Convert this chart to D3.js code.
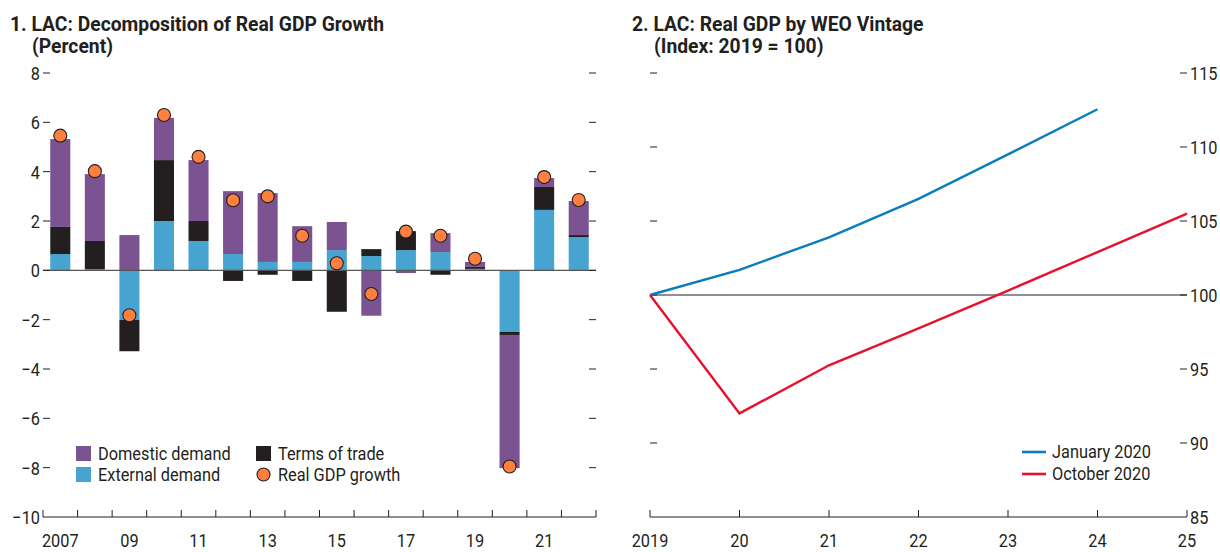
<!DOCTYPE html>
<html>
<head>
<meta charset="utf-8">
<script src="https://cdn.jsdelivr.net/npm/d3@7"></script>
<style>
  body { margin: 0; background: #fff; }
  svg { display: block; font-family: "Liberation Sans Narrow", "Arial Narrow", "Roboto", sans-serif; }
  .title { font-weight: bold; font-size: 20px; fill: #231f20; }
  .lbl { font-size: 19px; fill: #231f20; }
</style>
</head>
<body>
<svg width="1220" height="552"></svg>
<script>
// ---- panel 1 data ----
const years = d3.range(2007, 2023);
const domestic = [3.56, 2.71, 1.43, 1.71, 2.47, 2.55, 2.79, 1.45, 1.14, -1.84, -0.11, 0.77, 0.20, -5.40, 0.36, 1.38];
const external = [0.66, 0.05, -2.01, 2.00, 1.19, 0.66, 0.34, 0.34, 0.82, 0.58, 0.82, 0.74, 0.06, -2.50, 2.45, 1.35];
const terms = [1.10, 1.14, -1.27, 2.47, 0.81, -0.43, -0.18, -0.43, -1.68, 0.28, 0.77, -0.18, 0.08, -0.12, 0.93, 0.08];
const gdpGrowth = [5.46, 4.02, -1.82, 6.30, 4.60, 2.84, 3.00, 1.40, 0.29, -0.96, 1.57, 1.40, 0.47, -7.95, 3.78, 2.85];
const leftTicks = [8, 6, 4, 2, 0, -2, -4, -6, -8, -10];
const leftYearLabels = ["2007", "09", "11", "13", "15", "17", "19", "21"];

// ---- panel 2 data ----
const vintageYears = [2019, 2020, 2021, 2022, 2023, 2024, 2025];
const jan2020 = [100, 101.7, 103.9, 106.5, 109.5, 112.55, null];
const oct2020 = [100, 92.0, 95.25, 97.75, 100.3, 102.9, 105.5];
const rightTicks = [85, 90, 95, 100, 105, 110, 115];
const rightYearLabels = ["2019", "20", "21", "22", "23", "24", "25"];

const colors = { domestic: "#7b5391", external: "#47a3d0", terms: "#231f20", dot: "#ff7f3f" };
const ink = "#231f20";

const svg = d3.select("svg");

// ================= panel 1 =================
const p1 = svg.append("g");

p1.append("text").attr("class", "title").attr("x", 10).attr("y", 31)
    .text("1. LAC: Decomposition of Real GDP Growth");
p1.append("text").attr("class", "title").attr("x", 32).attr("y", 53)
    .text("(Percent)");

const x1 = d3.scaleBand().domain(years).range([43, 596]).paddingInner(0.42).paddingOuter(0.21);
const y1 = d3.scaleLinear().domain([-10, 8]).range([517, 73]);

const rows = years.map((yr, i) => ({ year: yr, external: external[i], terms: terms[i], domestic: domestic[i] }));
const keys = ["external", "terms", "domestic"];
const stacked = d3.stack().keys(keys).offset(d3.stackOffsetDiverging)(rows);

p1.append("g").selectAll("g")
    .data(stacked)
    .join("g")
    .attr("fill", d => colors[d.key])
    .selectAll("rect")
    .data(d => d)
    .join("rect")
    .attr("x", d => x1(d.data.year))
    .attr("width", x1.bandwidth())
    .attr("y", d => y1(Math.max(d[0], d[1])))
    .attr("height", d => Math.abs(y1(d[0]) - y1(d[1])));

// zero line
p1.append("line")
    .attr("x1", 43).attr("x2", 596)
    .attr("y1", y1(0)).attr("y2", y1(0))
    .attr("stroke", "#555").attr("stroke-width", 1.3);

// growth dots
p1.append("g").selectAll("circle")
    .data(years)
    .join("circle")
    .attr("cx", d => x1(d) + x1.bandwidth() / 2)
    .attr("cy", (d, i) => y1(gdpGrowth[i]))
    .attr("r", 6.5)
    .attr("fill", colors.dot)
    .attr("stroke", ink)
    .attr("stroke-width", 1.1);

// y ticks (both sides, inward)
const yt1 = p1.append("g");
yt1.selectAll("line.l")
    .data(leftTicks.filter(t => t !== -10))
    .join("line")
    .attr("class", "l")
    .attr("x1", 43).attr("x2", 50)
    .attr("y1", d => y1(d)).attr("y2", d => y1(d))
    .attr("stroke", ink).attr("stroke-width", 1);
yt1.selectAll("line.r")
    .data(leftTicks.filter(t => t !== -10))
    .join("line")
    .attr("class", "r")
    .attr("x1", 589).attr("x2", 596)
    .attr("y1", d => y1(d)).attr("y2", d => y1(d))
    .attr("stroke", ink).attr("stroke-width", 1);
yt1.selectAll("text")
    .data(leftTicks)
    .join("text")
    .attr("class", "lbl")
    .attr("x", 40)
    .attr("y", d => y1(d) + 7)
    .attr("text-anchor", "end")
    .text(d => d < 0 ? "\u2212" + Math.abs(d) : d);

// x axis
const xa1 = p1.append("g");
xa1.append("line")
    .attr("x1", 43).attr("x2", 596).attr("y1", 517).attr("y2", 517)
    .attr("stroke", ink).attr("stroke-width", 1.2);
const bounds = years.map(yr => x1(yr) - x1.step() * x1.paddingInner() / 2).concat([596]);
bounds[0] = 43;
xa1.selectAll("line.tk")
    .data(bounds)
    .join("line")
    .attr("class", "tk")
    .attr("x1", d => d).attr("x2", d => d)
    .attr("y1", 510).attr("y2", 517)
    .attr("stroke", ink).attr("stroke-width", 1);
xa1.selectAll("text")
    .data(leftYearLabels)
    .join("text")
    .attr("class", "lbl")
    .attr("x", (d, i) => x1(years[i * 2]) + x1.bandwidth() / 2)
    .attr("y", 547)
    .attr("text-anchor", "middle")
    .text(d => d);

// legend 1
const leg1 = p1.append("g");
const legItems = [
  { label: "Domestic demand", color: colors.domestic, x: 76, y: 446, type: "rect" },
  { label: "External demand", color: colors.external, x: 76, y: 467, type: "rect" },
  { label: "Terms of trade", color: colors.terms, x: 256, y: 446, type: "rect" },
  { label: "Real GDP growth", color: colors.dot, x: 256, y: 467, type: "circle" }
];
legItems.forEach(it => {
  if (it.type === "rect") {
    leg1.append("rect").attr("x", it.x).attr("y", it.y).attr("width", 15).attr("height", 15).attr("fill", it.color);
  } else {
    leg1.append("circle").attr("cx", it.x + 7.5).attr("cy", it.y + 7.5).attr("r", 6.5)
        .attr("fill", it.color).attr("stroke", ink).attr("stroke-width", 1.1);
  }
  leg1.append("text").attr("class", "lbl").attr("x", it.x + 22).attr("y", it.y + 14).text(it.label);
});

// ================= panel 2 =================
const p2 = svg.append("g");

p2.append("text").attr("class", "title").attr("x", 632).attr("y", 31)
    .text("2. LAC: Real GDP by WEO Vintage");
p2.append("text").attr("class", "title").attr("x", 654).attr("y", 53)
    .text("(Index: 2019 = 100)");

const x2 = d3.scaleLinear().domain([2019, 2025]).range([650, 1187]);
const y2 = d3.scaleLinear().domain([85, 115]).range([517, 73]);

// ticks
const yt2 = p2.append("g");
yt2.selectAll("line.l")
    .data(rightTicks.filter(t => t !== 85))
    .join("line")
    .attr("class", "l")
    .attr("x1", 650).attr("x2", 657)
    .attr("y1", d => y2(d)).attr("y2", d => y2(d))
    .attr("stroke", ink).attr("stroke-width", 1);
yt2.selectAll("line.r")
    .data(rightTicks.filter(t => t !== 85))
    .join("line")
    .attr("class", "r")
    .attr("x1", 1180).attr("x2", 1187)
    .attr("y1", d => y2(d)).attr("y2", d => y2(d))
    .attr("stroke", ink).attr("stroke-width", 1);
yt2.selectAll("text")
    .data(rightTicks)
    .join("text")
    .attr("class", "lbl")
    .attr("x", 1190)
    .attr("y", d => y2(d) + 7)
    .text(d => d);

// 100 baseline
p2.append("line")
    .attr("x1", 650).attr("x2", 1187)
    .attr("y1", y2(100)).attr("y2", y2(100))
    .attr("stroke", ink).attr("stroke-width", 1);

// x axis
const xa2 = p2.append("g");
xa2.append("line")
    .attr("x1", 650).attr("x2", 1187).attr("y1", 517).attr("y2", 517)
    .attr("stroke", ink).attr("stroke-width", 1.2);
xa2.selectAll("line.tk")
    .data(vintageYears)
    .join("line")
    .attr("class", "tk")
    .attr("x1", d => x2(d)).attr("x2", d => x2(d))
    .attr("y1", 510).attr("y2", 517)
    .attr("stroke", ink).attr("stroke-width", 1);
xa2.selectAll("text")
    .data(rightYearLabels)
    .join("text")
    .attr("class", "lbl")
    .attr("x", (d, i) => x2(vintageYears[i]))
    .attr("y", 547)
    .attr("text-anchor", "middle")
    .text(d => d);

// lines
const line2 = d3.line()
    .defined(d => d[1] != null)
    .x(d => x2(d[0]))
    .y(d => y2(d[1]));

const series = [
  { name: "January 2020", values: jan2020, color: "#0a7dc2" },
  { name: "October 2020", values: oct2020, color: "#e8112d" }
];

p2.append("g").selectAll("path")
    .data(series)
    .join("path")
    .attr("fill", "none")
    .attr("stroke", d => d.color)
    .attr("stroke-width", 2.4)
    .attr("d", d => line2(vintageYears.map((yr, i) => [yr, d.values[i]])));

// legend 2
const leg2 = p2.append("g");
series.forEach((s, i) => {
  const yy = 452 + i * 22;
  leg2.append("line").attr("x1", 1022).attr("x2", 1046).attr("y1", yy).attr("y2", yy)
      .attr("stroke", s.color).attr("stroke-width", 2.6);
  leg2.append("text").attr("class", "lbl").attr("x", 1052).attr("y", yy + 6).text(s.name);
});

// no condensed font installed: squeeze text horizontally to mimic one
function condense(sel, factor) {
  sel.each(function () {
    const t = d3.select(this);
    const x = +t.attr("x"), y = +t.attr("y");
    t.attr("x", 0).attr("y", 0)
     .attr("transform", `translate(${x},${y}) scale(${factor},1)`);
  });
}
condense(svg.selectAll("text.lbl"), 0.86);
condense(svg.selectAll("text.title"), 0.965);
</script>
</body>
</html>
